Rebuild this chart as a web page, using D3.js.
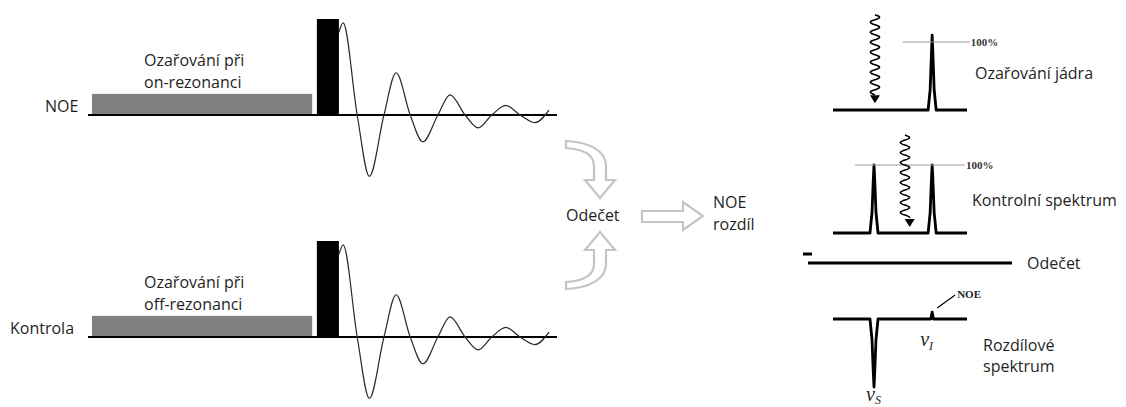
<!DOCTYPE html>
<html>
<head>
<meta charset="utf-8">
<script src="https://cdn.jsdelivr.net/npm/d3@7"></script>
<style>
  body { margin: 0; background: #fff; }
  text { font-family: 'Open Sans', sans-serif; font-size: 16px; fill: #1f1f1f; }
  .serif { font-family: 'Liberation Serif', serif; }
</style>
</head>
<body>
<div id="box-div"></div>
<script>
// pulse sequences (left)
const sequenceNames = ['NOE', 'Kontrola']
const irradiationLabels = [['Ozařování při', 'on-rezonanci'], ['Ozařování při', 'off-rezonanci']]
const irradiationSpan = [0.85, 47.8]
const irradiationLevel = 0.22
const pulseSpan = [48.8, 53.5]
const pulseLevel = 1.0
const fidTime = [53.5, 54.4, 57.4, 60.0, 63.1, 65.7, 68.7, 71.4, 74.6, 77.2, 80.4, 83.2, 86.1, 89.1, 92.1, 95.3, 98.3]
const fidSignal = [0.86, 0.96, 0, -0.64, 0, 0.44, 0, -0.28, 0, 0.21, 0, -0.135, 0, 0.10, 0, -0.08, 0.05]

// middle
const subtractLabel = 'Odečet'
const resultLabel = ['NOE', 'rozdíl']

// spectra (right)
const spectrumNames = [['Ozařování jádra'], ['Kontrolní spektrum'], ['Rozdílové', 'spektrum']]
const peakS = 30.6
const peakI = 74
const spectrumShift = [
  [0, 71, 72.5, 73.5, 74, 74.5, 75.5, 77, 100],
  [0, 27.6, 29.1, 30.1, 30.6, 31.1, 32.1, 33.6, 71, 72.5, 73.5, 74, 74.5, 75.5, 77, 100],
  [0, 27.6, 29.1, 30.1, 30.6, 31.1, 32.1, 33.6, 72, 73, 74, 75, 76, 100]
]
const spectrumIntensity = [
  [0, 0, 0.3, 0.85, 1.1, 0.85, 0.3, 0, 0],
  [0, 0, 0.3, 0.8, 1, 0.8, 0.3, 0, 0, 0.3, 0.8, 1, 0.8, 0.3, 0, 0],
  [0, 0, -0.3, -0.8, -1, -0.8, -0.3, 0, 0, 0, 0.1, 0, 0, 0]
]
const refLineSpan = [[52, 102], [16.4, 98.5]]
const irradArrowShift = [31.3, 53.7]
const irradArrowTop = [1.40, 1.44]
const irradArrowTip = [0.1, 0.09]
const subtractSpan = [-18.7, 133.6]

const dms = {
  width: 1126,
  height: 407,
  seqBaselines: [115, 337],
  specBaselines: [110, 233, 319],
  subtractY: 263
}

const svg = d3.select('#box-div').append('svg')
    .attr('width', dms.width)
    .attr('height', dms.height)

// ---------- left: pulse sequences ----------
const tScale = d3.scaleLinear().domain([0, 100]).range([88, 557])
const aScale = d3.scaleLinear().domain([-1, 1]).range([96, -96])

const fidLine = d3.line()
    .x((d, i) => tScale(fidTime[i]))
    .y(d => aScale(d))
    .curve(d3.curveMonotoneX)

sequenceNames.forEach((name, k) => {
  const g = svg.append('g')
      .attr('transform', `translate(0,${dms.seqBaselines[k]})`)

  g.append('rect')
      .attr('x', tScale(irradiationSpan[0]))
      .attr('y', aScale(irradiationLevel))
      .attr('width', tScale(irradiationSpan[1]) - tScale(irradiationSpan[0]))
      .attr('height', aScale(0) - aScale(irradiationLevel) - 1)
      .attr('fill', '#808080')

  g.append('rect')
      .attr('x', tScale(pulseSpan[0]))
      .attr('y', aScale(pulseLevel))
      .attr('width', tScale(pulseSpan[1]) - tScale(pulseSpan[0]))
      .attr('height', aScale(0) - aScale(pulseLevel))
      .attr('fill', '#000')

  g.append('line')
      .attr('x1', tScale(0)).attr('x2', tScale(100))
      .attr('y1', 0).attr('y2', 0)
      .attr('stroke', '#000').attr('stroke-width', 2)

  g.append('path')
      .attr('d', fidLine(fidSignal))
      .attr('fill', 'none')
      .attr('stroke', '#2a2a2a')
      .attr('stroke-width', 1.2)

  g.append('text')
      .attr('x', name === 'NOE' ? 45 : 10)
      .attr('y', -3)
      .text(name)

  g.selectAll('text.irr')
      .data(irradiationLabels[k])
      .join('text')
      .attr('class', 'irr')
      .attr('x', 144)
      .attr('y', (d, i) => -49 + i * 22)
      .text(d => d)
})

// ---------- middle: hollow arrows ----------
const arrowStyle = sel => sel.attr('fill', '#fff').attr('stroke', '#c4c4c4').attr('stroke-width', 2.2)

const curvedArrow = 'M-6,-18 L-15,-18 L0,0 L15,-18 L6,-18 L6,-32 C6,-48 -12,-56 -34,-57 L-34,-50 C-18,-49 -6,-44 -6,-32 Z'
svg.append('path').attr('d', curvedArrow)
    .attr('transform', 'translate(600,198)').call(arrowStyle)
svg.append('path').attr('d', curvedArrow)
    .attr('transform', 'translate(600,232) scale(1,-1)').call(arrowStyle)
svg.append('path')
    .attr('d', 'M0,0 L-20,-14 L-20,-5 L-61,-5 L-61,6 L-20,6 L-20,14 Z')
    .attr('transform', 'translate(703,216)').call(arrowStyle)

svg.append('text').attr('x', 566).attr('y', 221).text(subtractLabel)
svg.selectAll('text.res')
    .data(resultLabel)
    .join('text')
    .attr('class', 'res')
    .attr('x', 713)
    .attr('y', (d, i) => 208 + i * 22)
    .text(d => d)

// ---------- right: spectra ----------
const sScale = d3.scaleLinear().domain([0, 100]).range([833, 967])
const iScale = d3.scaleLinear().domain([0, 1]).range([0, -68])

const specLine = d3.line()
    .x(d => sScale(d[0]))
    .y(d => iScale(d[1]))

spectrumShift.forEach((xs, k) => {
  const g = svg.append('g')
      .attr('transform', `translate(0,${dms.specBaselines[k]})`)

  g.append('path')
      .attr('d', specLine(xs.map((x, i) => [x, spectrumIntensity[k][i]])))
      .attr('fill', 'none')
      .attr('stroke', '#000')
      .attr('stroke-width', 2.8)
      .attr('stroke-linejoin', 'round')

  if (k < 2) {
    g.append('line')
        .attr('x1', sScale(refLineSpan[k][0])).attr('x2', sScale(refLineSpan[k][1]))
        .attr('y1', iScale(1)).attr('y2', iScale(1))
        .attr('stroke', '#9a9a9a').attr('stroke-width', 1)
    g.append('text')
        .attr('class', 'serif')
        .attr('x', sScale(refLineSpan[k][1]) + 1)
        .attr('y', iScale(1) + 4)
        .style('font-size', '11px')
        .style('font-weight', 'bold')
        .style('fill', '#333')
        .text('100%')

    // wavy irradiation arrow
    const x0 = sScale(irradArrowShift[k])
    const yTop = iScale(irradArrowTop[k])
    const yTip = iScale(irradArrowTip[k])
    const yEnd = yTip - 8
    const pts = []
    for (let y = yTop; y <= yEnd; y += 1) {
      pts.push([x0 + 5 * Math.sin((y - yTop) / 10 * 2 * Math.PI), y])
    }
    g.append('path')
        .attr('d', d3.line().curve(d3.curveBasis)(pts))
        .attr('fill', 'none').attr('stroke', '#000').attr('stroke-width', 1.5)
    const xe = pts[pts.length - 1][0]
    g.append('path')
        .attr('d', `M${xe - 5},${yEnd} L${xe + 5},${yEnd} L${xe},${yTip} Z`)
        .attr('fill', '#000')
  }

  g.selectAll('text.name')
      .data(spectrumNames[k])
      .join('text')
      .attr('class', 'name')
      .attr('x', k === 0 ? 975 : k === 1 ? 972 : 983)
      .attr('y', (d, i) => (k === 0 ? -31 : k === 1 ? -27 : 32) + i * 21)
      .text(d => d)
})

// subtraction line
svg.append('line')
    .attr('x1', sScale(subtractSpan[0])).attr('x2', sScale(subtractSpan[1]))
    .attr('y1', dms.subtractY).attr('y2', dms.subtractY)
    .attr('stroke', '#000').attr('stroke-width', 3)
svg.append('line')
    .attr('x1', 803).attr('x2', 812)
    .attr('y1', dms.subtractY - 9).attr('y2', dms.subtractY - 9)
    .attr('stroke', '#000').attr('stroke-width', 3)
svg.append('text').attr('x', 1027).attr('y', 269).text(subtractLabel)

// NOE label and nu labels on the difference spectrum
const b3 = dms.specBaselines[2]
svg.append('line')
    .attr('x1', sScale(peakI) + 5).attr('y1', b3 - 11)
    .attr('x2', sScale(peakI) + 23).attr('y2', b3 - 24)
    .attr('stroke', '#000').attr('stroke-width', 1.2)
svg.append('text')
    .attr('class', 'serif')
    .attr('x', sScale(peakI) + 25).attr('y', b3 - 21)
    .style('font-size', '11px').style('font-weight', 'bold')
    .text('NOE')

const nu = svg.append('text')
    .attr('class', 'serif')
    .attr('x', sScale(peakI) - 12).attr('y', b3 + 27)
    .style('font-size', '20px').style('font-style', 'italic')
nu.append('tspan').text('ν')
nu.append('tspan').attr('dy', 4).style('font-size', '12px').text('I')

const nuS = svg.append('text')
    .attr('class', 'serif')
    .attr('x', sScale(peakS) - 8).attr('y', b3 + 82)
    .style('font-size', '20px').style('font-style', 'italic')
nuS.append('tspan').text('ν')
nuS.append('tspan').attr('dy', 3).style('font-size', '12px').text('S')
</script>
</body>
</html>
